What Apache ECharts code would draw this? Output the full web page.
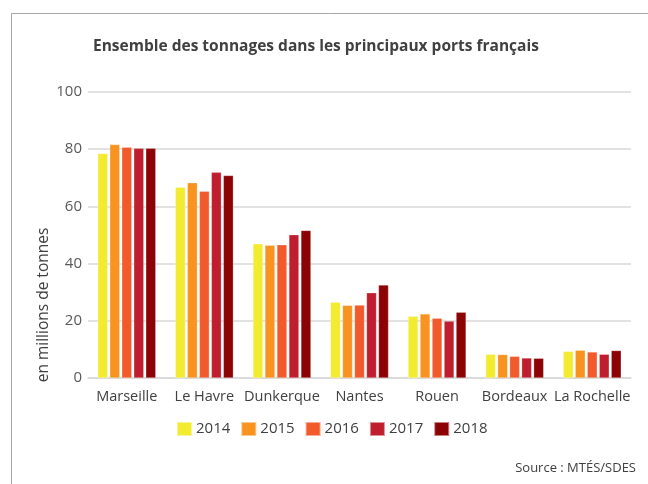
<!DOCTYPE html>
<html>
<head>
<meta charset="utf-8">
<script src="https://cdn.jsdelivr.net/npm/echarts@6/dist/echarts.min.js"></script>
<style>
  html, body { margin: 0; padding: 0; background: #fff; }
  #chart { width: 648px; height: 484px; }
</style>
</head>
<body>
<div id="chart"></div>
<script>
// ports et années
const ports = ['Marseille', 'Le Havre', 'Dunkerque', 'Nantes', 'Rouen', 'Bordeaux', 'La Rochelle']
const years = ['2014', '2015', '2016', '2017', '2018']
// tonnages en millions de tonnes, une liste par année
const t2014 = [78.5, 66.7, 46.9, 26.5, 21.6, 8.3, 9.3]
const t2015 = [81.6, 68.3, 46.4, 25.4, 22.4, 8.2, 9.7]
const t2016 = [80.7, 65.3, 46.6, 25.5, 20.9, 7.6, 9.1]
const t2017 = [80.3, 71.9, 50.1, 29.8, 19.9, 7.0, 8.3]
const t2018 = [80.3, 70.8, 51.6, 32.5, 23.0, 6.9, 9.6]
const colors = ['#F3EB2F', '#F7931E', '#F15A2B', '#BE1E2D', '#8B0305']

const font = '"Open Sans", "Liberation Sans", sans-serif'
const chart = echarts.init(document.getElementById('chart'))
const values = [t2014, t2015, t2016, t2017, t2018]

const option = {
  animation: false,
  textStyle: { fontFamily: font },
  title: {
    text: 'Ensemble des tonnages dans les principaux ports français',
    left: 88,
    top: 34,
    textStyle: { fontSize: 15.5, fontWeight: 'bold', color: '#404040', fontFamily: font }
  },
  grid: { left: 88, right: 17, top: 92, bottom: 106 },
  legend: {
    bottom: 47,
    left: 176,
    padding: 0,
    itemWidth: 15,
    itemHeight: 14,
    itemGap: 10,
    icon: 'rect',
    textStyle: { fontSize: 15, color: '#404040', fontFamily: font, padding: [0, 0, 0, -1] },
    data: years
  },
  xAxis: {
    type: 'category',
    data: ports,
    axisLine: { lineStyle: { color: '#d9d9d9', width: 1.5 } },
    axisTick: { show: false },
    axisLabel: { fontSize: 14.5, color: '#404040', margin: 11, interval: 0 }
  },
  yAxis: {
    type: 'value',
    min: 0,
    max: 100,
    interval: 20,
    axisLine: { show: false },
    axisTick: { show: false },
    splitLine: { lineStyle: { color: '#d9d9d9', width: 1.5 } },
    axisLabel: { fontSize: 15, color: '#595959', margin: 6 }
  },
  series: years.map((y, i) => ({
    name: y,
    type: 'bar',
    data: values[i],
    barWidth: 10,
    barGap: '20%',
    itemStyle: { color: colors[i], borderColor: 'rgba(255,255,255,0.5)', borderWidth: 0.5 }
  })),
  graphic: [
    // cadre gauche et haut
    { type: 'line', shape: { x1: 11.5, y1: 13.5, x2: 11.5, y2: 484 }, style: { stroke: '#a6a6a6', lineWidth: 1 } },
    { type: 'line', shape: { x1: 11.5, y1: 13.5, x2: 648, y2: 13.5 }, style: { stroke: '#a6a6a6', lineWidth: 1 } },
    {
      type: 'text',
      x: 44,
      y: 305,
      rotation: Math.PI / 2,
      style: {
        text: 'en millions de tonnes',
        font: '15.5px ' + font,
        fill: '#404040',
        align: 'center',
        verticalAlign: 'middle'
      }
    },
    {
      type: 'text',
      right: 12,
      top: 462,
      style: { text: 'Source : MTÉS/SDES', font: '13px ' + font, fill: '#404040' }
    }
  ]
}
chart.setOption(option)
</script>
</body>
</html>
